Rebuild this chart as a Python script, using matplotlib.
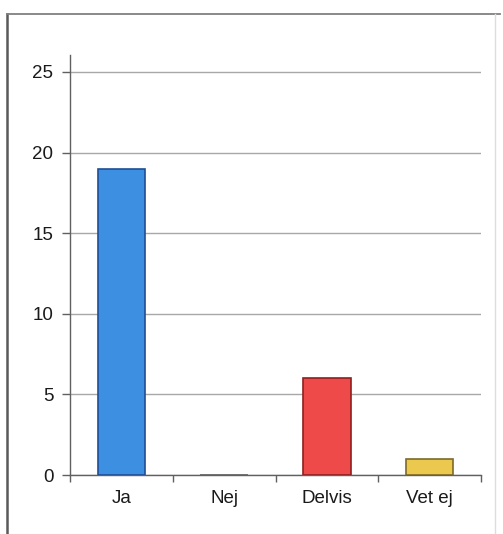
import matplotlib
matplotlib.use("Agg")
import matplotlib.pyplot as plt
from matplotlib.lines import Line2D

categories = ["Ja", "Nej", "Delvis", "Vet ej"]
values = [19, 0, 6, 1]
face_colors = ["#3d8fe2", "#606060", "#ee4a4a", "#ebc94f"]
edge_colors = ["#1f4f95", "#606060", "#8e1f1f", "#7d6a2a"]
y_ticks = [0, 5, 10, 15, 20, 25]

plt.rcParams["font.family"] = ["Liberation Sans", "DejaVu Sans"]

W, H = 503, 534
fig = plt.figure(figsize=(W / 100, H / 100), dpi=100)
fig.patch.set_facecolor("white")

ax = fig.add_axes([70 / W, 59 / H, 411 / W, 420 / H])
x = list(range(len(categories)))
ax.bar(x, values, width=0.46, color=face_colors, edgecolor=edge_colors,
       linewidth=1.2, zorder=3)

ax.set_xlim(-0.5, len(categories) - 0.5)
ax.set_ylim(0, 25 * 420 / 403)
ax.set_yticks(y_ticks)
ax.set_yticklabels([str(v) for v in y_ticks], fontsize=13.5, color="#1a1a1a")
ax.yaxis.grid(True, color="#a8a8a8", linewidth=1.0, zorder=0)

# category labels centred under bars, tick marks at category boundaries
ax.set_xticks(x)
ax.set_xticklabels(categories, fontsize=13.5, color="#1a1a1a")
ax.tick_params(axis="x", which="major", length=0, pad=11)
ax.set_xticks([i - 0.5 for i in range(len(categories) + 1)], minor=True)
ax.tick_params(axis="x", which="minor", length=5, width=1, color="#606060",
               direction="out")
ax.tick_params(axis="y", length=6, width=1, color="#606060", pad=6)

for side in ("top", "right"):
    ax.spines[side].set_visible(False)
for side in ("left", "bottom"):
    ax.spines[side].set_color("#606060")
    ax.spines[side].set_linewidth(1.0)

# outer frame around the chart
def fx(px):
    return px / W

def fy(py):
    return 1 - py / H

fig.add_artist(Line2D([fx(7), fx(7)], [fy(14), fy(534)], color="#5a5a5a",
                      linewidth=1.8, transform=fig.transFigure))
fig.add_artist(Line2D([fx(7), fx(500)], [fy(14), fy(14)], color="#808080",
                      linewidth=1.3, transform=fig.transFigure))
fig.add_artist(Line2D([fx(495), fx(495)], [fy(14), fy(534)], color="#dddddd",
                      linewidth=1.0, transform=fig.transFigure))

fig.savefig("out.png", dpi=100, facecolor="white")
